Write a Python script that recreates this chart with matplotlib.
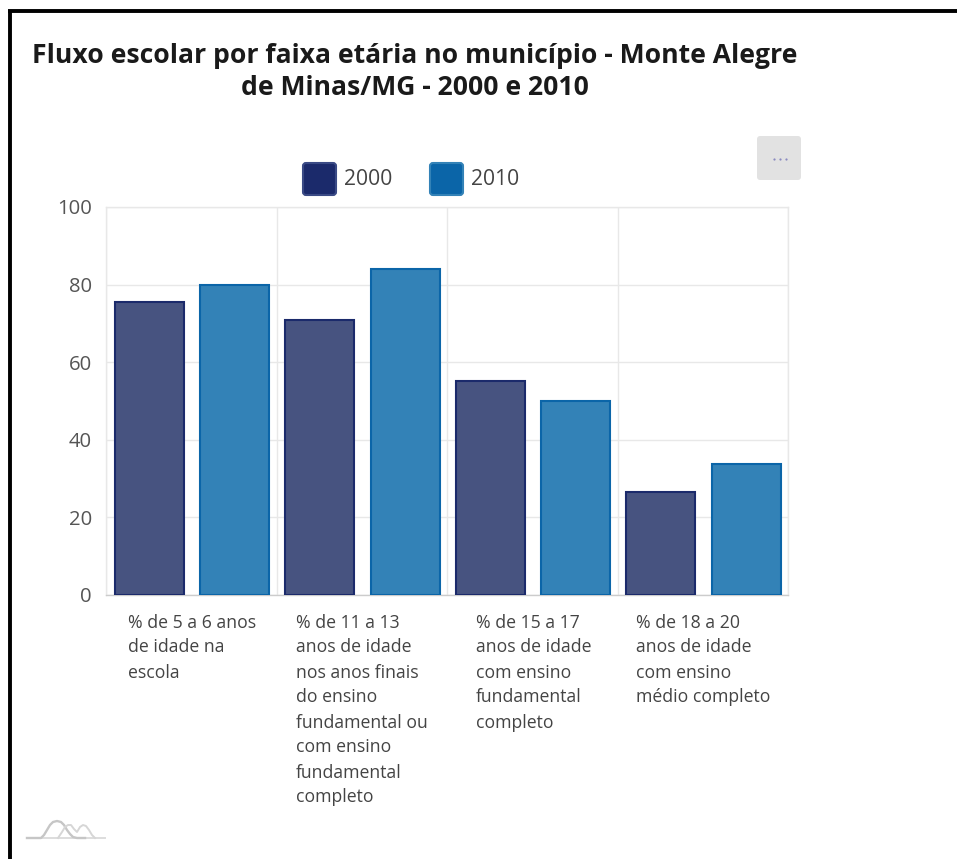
import matplotlib
matplotlib.use("Agg")
import matplotlib.pyplot as plt
import numpy as np
from matplotlib.lines import Line2D
from matplotlib.patches import FancyBboxPatch

W, H = 957, 859

# --- DATA ---
categories = [
    "% de 5 a 6 anos\nde idade na\nescola",
    "% de 11 a 13\nanos de idade\nnos anos finais\ndo ensino\nfundamental ou\ncom ensino\nfundamental\ncompleto",
    "% de 15 a 17\nanos de idade\ncom ensino\nfundamental\ncompleto",
    "% de 18 a 20\nanos de idade\ncom ensino\nmédio completo",
]
values_2000 = [75.4, 70.8, 55.1, 26.6]
values_2010 = [79.8, 83.9, 49.9, 33.8]
y_ticks = [0, 20, 40, 60, 80, 100]
title = "Fluxo escolar por faixa etária no município - Monte Alegre\nde Minas/MG - 2000 e 2010"

plt.rcParams["font.family"] = ["Open Sans", "DejaVu Sans"]

DARK = "#1b2a6b"
BLUE = "#0b65a8"


def fx(px):
    return px / W


def fy(px):
    return 1 - px / H


fig = plt.figure(figsize=(W / 100, H / 100), dpi=100, facecolor="white")
ax = fig.add_axes([fx(106), fy(595), fx(788) - fx(106), (595 - 207) / H])

# bars
x = np.arange(len(categories)) + 0.5
ax.bar(x - 0.246, values_2000, 0.405, facecolor="#475380", edgecolor=DARK, linewidth=1.5, zorder=3)
ax.bar(x + 0.254, values_2010, 0.405, facecolor="#3382b7", edgecolor=BLUE, linewidth=1.5, zorder=3)

ax.set_xlim(0, len(categories))
ax.set_ylim(0, 100)
ax.set_yticks(y_ticks)
ax.set_xticks(np.arange(len(categories) + 1))
ax.set_xticklabels([])
ax.grid(True, color="#e8e8e8", linewidth=1)
ax.set_axisbelow(True)
ax.tick_params(axis="y", length=0, pad=10, labelsize=14.6, labelcolor="#555555")
ax.tick_params(axis="x", length=0)
for s in ["top", "right", "left"]:
    ax.spines[s].set_color("#e8e8e8")
    ax.spines[s].set_linewidth(1)
ax.spines["bottom"].set_color("#cccccc")
ax.spines["bottom"].set_linewidth(1)

# category labels, left aligned under each group
label_x = [128, 296, 476, 636]
for px, lab in zip(label_x, categories):
    fig.text(fx(px), fy(613.5), lab, ha="left", va="top", fontsize=12.7,
             color="#444444", linespacing=1.5)

fig.text(fx(415), fy(72), title, ha="center", va="center", fontsize=19.1,
         fontweight="bold", color="#1a1a1a", linespacing=1.3)

# legend
for px, col, edge, lab in [(302, "#1b2a6b", "#3a4a85", "2000"), (429, "#0b65a8", "#3382b7", "2010")]:
    fig.add_artist(FancyBboxPatch((px + 1, 859 - 195), 33, 32, boxstyle="round,pad=0,rounding_size=3",
                                  transform=None, facecolor=col, edgecolor=edge, linewidth=1.5))
    fig.text(fx(px + 42), fy(179.5), lab, ha="left", va="center", fontsize=15.2, color="#444444")

# menu button
fig.add_artist(FancyBboxPatch((757, 859 - 180), 44, 44, boxstyle="round,pad=0,rounding_size=3",
                              transform=None, facecolor="#e2e2e2", edgecolor="none"))
fig.add_artist(Line2D([fx(773.5), fx(779.5), fx(785.5)], [fy(159)] * 3, linestyle="none", marker="o",
                      markersize=1.6, markeredgewidth=0, color="#8a8ac0"))

# screenshot frame
fig.add_artist(Line2D([fx(9.7), fx(9.7)], [0, fy(10.5)], color="black", linewidth=2.8, solid_capstyle="butt"))
fig.add_artist(Line2D([fx(8), 1], [fy(10.5), fy(10.5)], color="black", linewidth=2.8, solid_capstyle="butt"))

# logo at the bottom
fig.add_artist(Line2D([fx(27), fx(105)], [fy(838), fy(838)], color="#dddddd", linewidth=1.4))
logo1_x = [27, 41, 44, 47, 50, 53, 57, 61, 64, 67, 70, 73, 77, 85]
logo1_y = [838, 838, 835, 830, 825, 822, 821, 822, 825, 830, 834, 837, 838, 838]
logo2_x = [58, 62, 65, 68, 71, 74, 77, 80, 83, 86, 89, 92, 95]
logo2_y = [838, 832, 827, 825, 825, 829, 832, 827, 825, 826, 830, 835, 838]
fig.add_artist(Line2D([fx(v) for v in logo1_x], [fy(v) for v in logo1_y], color="#c6c6c6", linewidth=1.7))
fig.add_artist(Line2D([fx(v) for v in logo2_x], [fy(v) for v in logo2_y], color="#d6d6d6", linewidth=1.4))

fig.savefig("out.png", dpi=100)
